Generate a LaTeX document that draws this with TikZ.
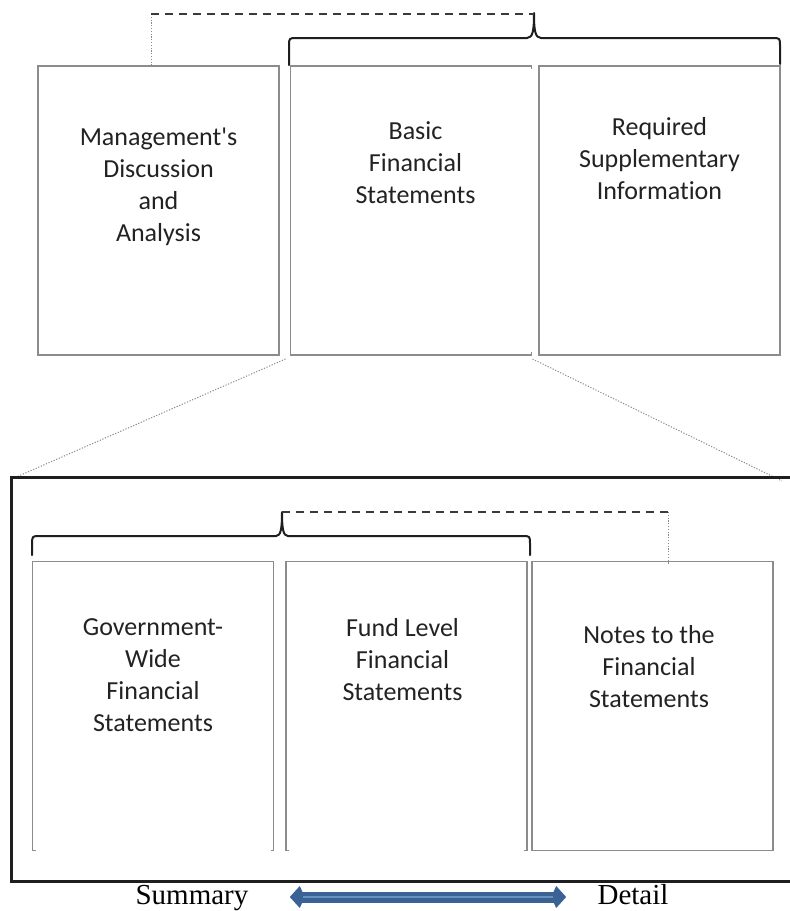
\documentclass[tikz,border=0pt]{standalone}
\usepackage{fontspec}
\setmainfont{Carlito}[Ligatures={NoCommon}]
\newfontfamily\lblfont{Liberation Serif}
\usepackage{tikz}
\usetikzlibrary{arrows.meta,positioning}
\definecolor{boxgray}{HTML}{8C8C8C}
\definecolor{dotcol}{HTML}{8A8A8A}
\definecolor{dashcol}{HTML}{3A3A3A}
\definecolor{bracecol}{HTML}{1E1E1E}
\definecolor{txtcol}{HTML}{222222}
\definecolor{arrowblue}{HTML}{3A6294}
\definecolor{arrowhi}{HTML}{6A90BF}

\begin{document}
\begin{tikzpicture}
[x=0.5pt,y=-0.5pt,
box/.style={rectangle,inner sep=0,outer sep=0,minimum width=120.5pt,minimum height=144.5pt},
boxline/.style={draw=boxgray,line width=0.6pt},
txt/.style={align=center,inner sep=0,text=txtcol,font=\fontsize{13}{16}\selectfont},
lbl/.style={inner sep=0,text=black,font=\lblfont\fontsize{14.5}{17}\selectfont,text height=9.6pt,text depth=2.6pt},
brace/.style={draw=bracecol,line width=1pt,line cap=round,line join=round},
dashline/.style={draw=dashcol,line width=0.75pt,dash pattern=on 4pt off 3pt},
dotline/.style={draw=dotcol,line width=0.5pt,dash pattern=on 0.6pt off 0.8pt},
frame/.style={draw=bracecol,line width=1.5pt},
dblarrow/.style={draw=arrowblue,line width=5.5pt,{Kite[length=7.5pt,width=11pt,inset=2.5pt]}-{Kite[length=7.5pt,width=11pt,inset=2.5pt]}}]
\useasboundingbox (0,0) rectangle (789,911);

\node[box,boxline] (mda) at (158.5,210.5) {};
\node[box] (bsc) at (411,210.5) {};
\draw[boxline] ([yshift=-1.5pt]bsc.north east) -- (bsc.north east) -- (bsc.north west) -- (bsc.south west) -- (bsc.south east) -- ([yshift=1.5pt]bsc.south east);
\node[box,boxline] (rsi) at (659.5,210.5) {};

\node[txt,below=31pt of mda.north] (mdatxt) {Management\textquotesingle s\\Discussion\\and\\Analysis};
\node[txt,below=27.5pt of bsc.north,xshift=2.25pt] (bsctxt) {Basic\\Financial\\Statements};
\node[txt,below=25.5pt of rsi.north] (rsitxt) {Required\\Supplementary\\Information};

\draw[brace] (289,65) -- (289,46) .. controls (289,38) .. (297,38) -- (527,38) .. controls (533,38) and (534,30) .. (534,13) .. controls (534,30) and (535,38) .. (541,38) -- (772,38) .. controls (780,38) .. (780,46) -- (780,64);
\coordinate (ttip) at (534,14);
\coordinate (tcrn) at (151,14);
\draw[dotline] (tcrn) -- (tcrn |- mda.north);
\draw[dashline] (tcrn) -- (ttip);

\coordinate (zl) at (14,478);
\coordinate (zr) at (782,481);
\draw[dotline] ([shift={(-2.5pt,-2pt)}]bsc.south west) -- (zl);
\draw[dotline] ([shift={(0.5pt,-2pt)}]bsc.south east) -- (zr);
\draw[frame] (795,477) -- (11,477) -- (11,881) -- (795,881);

\node[box] (gov) at (153,706) {};
\draw[boxline] ([xshift=1.5pt]gov.south west) -- (gov.south west) -- (gov.north west) -- (gov.north east) -- (gov.south east) -- ([xshift=-1.5pt]gov.south east);
\node[box] (fund) at (406.5,706) {};
\draw[boxline] ([xshift=1.5pt]fund.south west) -- (fund.south west) -- (fund.north west) -- (fund.north east) -- (fund.south east) -- ([xshift=-1.5pt]fund.south east);
\node[box,boxline] (notes) at (652.5,706) {};

\node[txt,below=28.5pt of gov.north] (govtxt) {Government-\\Wide\\Financial\\Statements};
\node[txt,below=28.5pt of fund.north,xshift=-2pt] (fundtxt) {Fund Level\\Financial\\Statements};
\node[txt,below=32pt of notes.north,xshift=-1.75pt] (notestxt) {Notes to the\\Financial\\Statements};

\draw[brace] (32,555) -- (32,545) .. controls (32,536) .. (40,536) -- (276,536) .. controls (281,536) and (282,528) .. (282,512) .. controls (282,528) and (283,536) .. (288,536) -- (522,536) .. controls (530,536) .. (530,544) -- (530,555);
\coordinate (btip) at (282,512);
\coordinate (bcrn) at (668,512);
\draw[dashline] (btip) -- (bcrn);
\draw[dotline] (bcrn) -- ([yshift=-1.5pt]bcrn |- notes.north);

\node[lbl,anchor=base] (sum) at (192,904) {Summary};
\node[lbl,anchor=base] (det) at (633,904) {Detail};
\draw[dblarrow] ([xshift=20.5pt]sum.east) -- ([xshift=-15.5pt]det.west);
\draw[draw=arrowhi,line width=0.7pt] ([xshift=27pt]sum.east) -- ([xshift=-22pt]det.west);
\end{tikzpicture}
\end{document}
